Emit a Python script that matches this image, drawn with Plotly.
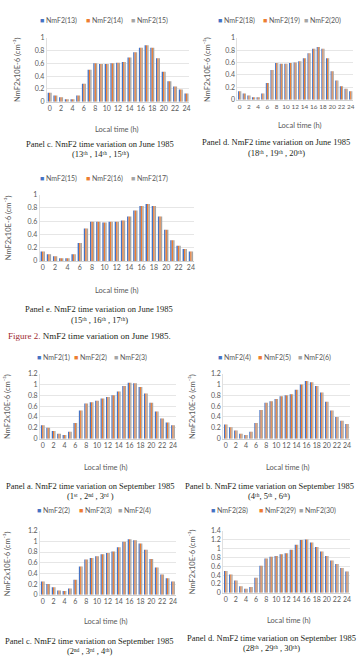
import plotly.graph_objects as go

W, H = 360, 665
hours = list(range(25))
tick_hours = list(range(0, 25, 2))

# ---- June 1985 ----
jun_c_13 = [0.14, 0.10, 0.07, 0.04, 0.04, 0.10, 0.28, 0.50, 0.60, 0.59, 0.59, 0.60, 0.61, 0.62, 0.69, 0.77, 0.84, 0.88, 0.84, 0.68, 0.47, 0.32, 0.24, 0.19, 0.13]
jun_c_14 = [0.14, 0.10, 0.07, 0.04, 0.04, 0.10, 0.28, 0.50, 0.60, 0.59, 0.59, 0.60, 0.61, 0.62, 0.69, 0.77, 0.84, 0.88, 0.84, 0.68, 0.47, 0.32, 0.24, 0.19, 0.13]
jun_c_15 = [0.14, 0.10, 0.07, 0.04, 0.04, 0.10, 0.28, 0.50, 0.60, 0.59, 0.59, 0.60, 0.61, 0.62, 0.69, 0.77, 0.84, 0.88, 0.84, 0.68, 0.47, 0.32, 0.24, 0.19, 0.13]

jun_d_18 = [0.14, 0.10, 0.07, 0.04, 0.04, 0.10, 0.27, 0.48, 0.59, 0.58, 0.58, 0.59, 0.60, 0.62, 0.67, 0.75, 0.82, 0.85, 0.82, 0.67, 0.46, 0.31, 0.22, 0.18, 0.14]
jun_d_19 = [0.14, 0.10, 0.07, 0.04, 0.04, 0.10, 0.27, 0.48, 0.59, 0.58, 0.58, 0.59, 0.60, 0.62, 0.67, 0.75, 0.82, 0.85, 0.82, 0.67, 0.46, 0.31, 0.22, 0.18, 0.14]
jun_d_20 = [0.14, 0.10, 0.07, 0.04, 0.04, 0.10, 0.27, 0.48, 0.59, 0.58, 0.58, 0.59, 0.60, 0.62, 0.67, 0.75, 0.82, 0.85, 0.82, 0.67, 0.46, 0.31, 0.22, 0.18, 0.14]

jun_e_15 = [0.14, 0.10, 0.07, 0.04, 0.04, 0.10, 0.27, 0.49, 0.59, 0.59, 0.58, 0.59, 0.59, 0.61, 0.67, 0.76, 0.83, 0.86, 0.83, 0.67, 0.47, 0.31, 0.23, 0.18, 0.14]
jun_e_16 = [0.14, 0.10, 0.07, 0.04, 0.04, 0.10, 0.27, 0.49, 0.59, 0.59, 0.58, 0.59, 0.59, 0.61, 0.67, 0.76, 0.83, 0.86, 0.83, 0.67, 0.47, 0.31, 0.23, 0.18, 0.14]
jun_e_17 = [0.14, 0.10, 0.07, 0.04, 0.04, 0.10, 0.27, 0.49, 0.59, 0.59, 0.58, 0.59, 0.59, 0.61, 0.67, 0.76, 0.83, 0.86, 0.83, 0.67, 0.47, 0.31, 0.23, 0.18, 0.14]

# ---- September 1985 ----
sep_a_1 = [0.25, 0.20, 0.14, 0.09, 0.07, 0.13, 0.29, 0.52, 0.65, 0.67, 0.70, 0.74, 0.77, 0.80, 0.87, 0.97, 1.03, 1.02, 0.95, 0.83, 0.66, 0.50, 0.37, 0.30, 0.25]
sep_a_2 = [0.25, 0.20, 0.14, 0.09, 0.07, 0.13, 0.29, 0.52, 0.65, 0.67, 0.70, 0.74, 0.77, 0.80, 0.87, 0.97, 1.03, 1.02, 0.95, 0.83, 0.66, 0.50, 0.37, 0.30, 0.25]
sep_a_3 = [0.25, 0.20, 0.14, 0.09, 0.07, 0.13, 0.29, 0.52, 0.65, 0.67, 0.70, 0.74, 0.77, 0.80, 0.87, 0.97, 1.03, 1.02, 0.95, 0.83, 0.66, 0.50, 0.37, 0.30, 0.25]

sep_b_4 = [0.26, 0.21, 0.15, 0.09, 0.07, 0.13, 0.29, 0.53, 0.66, 0.69, 0.73, 0.78, 0.80, 0.82, 0.90, 1.00, 1.06, 1.04, 0.97, 0.85, 0.68, 0.52, 0.40, 0.33, 0.27]
sep_b_5 = [0.26, 0.21, 0.15, 0.09, 0.07, 0.13, 0.29, 0.53, 0.66, 0.69, 0.73, 0.78, 0.80, 0.82, 0.90, 1.00, 1.06, 1.04, 0.97, 0.85, 0.68, 0.52, 0.40, 0.33, 0.27]
sep_b_6 = [0.26, 0.21, 0.15, 0.09, 0.07, 0.13, 0.29, 0.53, 0.66, 0.69, 0.73, 0.78, 0.80, 0.82, 0.90, 1.00, 1.06, 1.04, 0.97, 0.85, 0.68, 0.52, 0.40, 0.33, 0.27]

sep_c_2 = [0.25, 0.20, 0.14, 0.08, 0.07, 0.12, 0.28, 0.53, 0.66, 0.69, 0.72, 0.76, 0.78, 0.81, 0.89, 0.99, 1.04, 1.02, 0.96, 0.84, 0.67, 0.51, 0.38, 0.31, 0.25]
sep_c_3 = [0.25, 0.20, 0.14, 0.08, 0.07, 0.12, 0.28, 0.53, 0.66, 0.69, 0.72, 0.76, 0.78, 0.81, 0.89, 0.99, 1.04, 1.02, 0.96, 0.84, 0.67, 0.51, 0.38, 0.31, 0.25]
sep_c_4 = [0.25, 0.20, 0.14, 0.08, 0.07, 0.12, 0.28, 0.53, 0.66, 0.69, 0.72, 0.76, 0.78, 0.81, 0.89, 0.99, 1.04, 1.02, 0.96, 0.84, 0.67, 0.51, 0.38, 0.31, 0.25]

sep_d_28 = [0.49, 0.41, 0.28, 0.15, 0.09, 0.13, 0.34, 0.61, 0.77, 0.81, 0.83, 0.87, 0.89, 0.97, 1.08, 1.19, 1.20, 1.13, 1.03, 0.93, 0.83, 0.73, 0.65, 0.56, 0.48]
sep_d_29 = [0.49, 0.41, 0.28, 0.15, 0.09, 0.13, 0.34, 0.61, 0.77, 0.81, 0.83, 0.87, 0.89, 0.97, 1.08, 1.19, 1.20, 1.13, 1.03, 0.93, 0.83, 0.73, 0.65, 0.56, 0.48]
sep_d_30 = [0.49, 0.41, 0.28, 0.15, 0.09, 0.13, 0.34, 0.61, 0.77, 0.81, 0.83, 0.87, 0.89, 0.97, 1.08, 1.19, 1.20, 1.13, 1.03, 0.93, 0.83, 0.73, 0.65, 0.56, 0.48]

# ---- text ----
panel_captions = [
    ("Panel c. NmF2 time variation on June 1985", "(13ᵗʰ , 14ᵗʰ , 15ᵗʰ)"),
    ("Panel d. NmF2 time variation on June 1985", "(18ᵗʰ , 19ᵗʰ , 20ᵗʰ)"),
    ("Panel e. NmF2 time variation on June 1985", "(15ᵗʰ , 16ᵗʰ , 17ᵗʰ)"),
    ("Panel a. NmF2 time variation on September 1985", "(1ˢᵗ , 2ⁿᵈ , 3ʳᵈ )"),
    ("Panel b. NmF2 time variation on September 1985", "(4ᵗʰ, 5ᵗʰ , 6ᵗʰ)"),
    ("Panel c. NmF2 time variation on September 1985", "(2ⁿᵈ , 3ʳᵈ , 4ᵗʰ)"),
    ("Panel d. NmF2 time variation on September 1985", "(28ᵗʰ , 29ᵗʰ , 30ᵗʰ)"),
]
figure_caption = "<span style='color:#9e2a2f'>Figure 2.</span> NmF2 time variation on June 1985."
x_title = "Local time (h)"
y_title = "NmF2x10E-6 (cm⁻³)"

colors = ["#4472C4", "#ED7D31", "#A5A5A5"]

panels = [
    dict(series=[("NmF2(13)", jun_c_13), ("NmF2(14)", jun_c_14), ("NmF2(15)", jun_c_15)], ymax=1.0, tfs=7,
         x0=47.1, x1=190.4, yt=33, yb=98, leg=[38, 84, 130], legy=16, xt=(118, 126), yti=(17, 65), cap=(101, 141, 151)),
    dict(series=[("NmF2(18)", jun_d_18), ("NmF2(19)", jun_d_19), ("NmF2(20)", jun_d_20)], ymax=1.0, tfs=6.4,
         x0=238.7, x1=355.0, yt=33, yb=96, leg=[217, 262, 304], legy=16, xt=(302, 122), yti=(208, 65), cap=(278, 139, 150)),
    dict(series=[("NmF2(15)", jun_e_15), ("NmF2(16)", jun_e_16), ("NmF2(17)", jun_e_17)], ymax=1.0, tfs=7,
         x0=39.9, x1=195.1, yt=192, yb=259, leg=[38, 84, 130], legy=176, xt=(118, 289), yti=(8, 225), cap=(100, 308, 319)),
    dict(series=[("NmF2(1)", sep_a_1), ("NmF2(2)", sep_a_2), ("NmF2(3)", sep_a_3)], ymax=1.2, tfs=7,
         x0=40.3, x1=176.7, yt=373, yb=439, leg=[35, 72, 113], legy=357, xt=(107, 468), yti=(7, 406), cap=(91, 487, 497)),
    dict(series=[("NmF2(4)", sep_b_4), ("NmF2(5)", sep_b_5), ("NmF2(6)", sep_b_6)], ymax=1.2, tfs=7,
         x0=224.5, x1=351.5, yt=373, yb=439, leg=[217, 257, 298], legy=357, xt=(290, 468), yti=(193, 406), cap=(271, 487, 497)),
    dict(series=[("NmF2(2)", sep_c_2), ("NmF2(3)", sep_c_3), ("NmF2(4)", sep_c_4)], ymax=1.2, tfs=7,
         x0=40.3, x1=176.7, yt=532, yb=597, leg=[35, 77, 117], legy=512, xt=(107, 624), yti=(7, 565), cap=(90, 644, 654)),
    dict(series=[("NmF2(28)", sep_d_28), ("NmF2(29)", sep_d_29), ("NmF2(30)", sep_d_30)], ymax=1.4, tfs=7,
         x0=224.5, x1=351.5, yt=532, yb=595, leg=[210, 258, 299], legy=512, xt=(291, 623), yti=(193, 563), cap=(273, 641, 651)),
]

def fx(p):
    return p / W

def fy(p):
    return 1 - p / H

SANS = "Lato, Carlito, Liberation Sans, sans-serif"
SERIF = "Liberation Serif, DejaVu Serif, serif"
TICK = "#595959"

fig = go.Figure()
annotations = []
layout_axes = {}

for i, p in enumerate(panels, start=1):
    xa = "x" if i == 1 else f"x{i}"
    ya = "y" if i == 1 else f"y{i}"
    for (name, vals), c in zip(p["series"], colors):
        fig.add_trace(go.Bar(x=hours, y=vals, name=name, marker=dict(color=c, line=dict(width=0)),
                             xaxis=xa, yaxis=ya, showlegend=False))
    layout_axes["xaxis" if i == 1 else f"xaxis{i}"] = dict(
        domain=[fx(p["x0"]), fx(p["x1"])], anchor=ya, range=[-0.5, 24.5],
        tickmode="array", tickvals=tick_hours, ticktext=[str(h) for h in tick_hours],
        tickangle=0, ticklabeloverflow="allow", showgrid=False, zeroline=False,
        showline=True, linecolor="#D0D0D0", linewidth=1,
        ticks="", tickfont=dict(family=SANS, size=p["tfs"], color=TICK), fixedrange=True)
    layout_axes["yaxis" if i == 1 else f"yaxis{i}"] = dict(
        domain=[fy(p["yb"]), fy(p["yt"])], anchor=xa, range=[0, p["ymax"]], dtick=0.2, tick0=0,
        showgrid=True, gridcolor="#E0E0E0", gridwidth=0.8, zeroline=False,
        showline=True, linecolor="#E0E0E0", linewidth=1,
        ticks="", tickfont=dict(family=SANS, size=7, color=TICK), fixedrange=True)
    # legend entries
    for lx, (name, _), c in zip(p["leg"], p["series"], colors):
        annotations.append(dict(xref="paper", yref="paper", x=fx(lx), y=fy(p["legy"]),
                                xanchor="left", yanchor="middle", showarrow=False,
                                text=f"<span style='color:{c}'>■</span> {name}",
                                font=dict(family=SANS, size=7, color=TICK)))
    # axis titles
    annotations.append(dict(xref="paper", yref="paper", x=fx(p["xt"][0]), y=fy(p["xt"][1]),
                            xanchor="center", yanchor="middle", showarrow=False, text=x_title,
                            font=dict(family=SANS, size=7.5, color=TICK)))
    annotations.append(dict(xref="paper", yref="paper", x=fx(p["yti"][0]), y=fy(p["yti"][1]),
                            xanchor="center", yanchor="middle", showarrow=False, text=y_title,
                            textangle=-90, font=dict(family=SANS, size=7.5, color=TICK)))
    # captions
    l1, l2 = panel_captions[i - 1]
    cx, cy1, cy2 = p["cap"]
    annotations.append(dict(xref="paper", yref="paper", x=fx(cx), y=fy(cy1), xanchor="center",
                            yanchor="middle", showarrow=False, text=l1,
                            font=dict(family=SERIF, size=8.5, color="#231F20")))
    annotations.append(dict(xref="paper", yref="paper", x=fx(cx), y=fy(cy2), xanchor="center",
                            yanchor="middle", showarrow=False, text=l2,
                            font=dict(family=SERIF, size=8.5, color="#231F20")))

annotations.append(dict(xref="paper", yref="paper", x=fx(6), y=fy(335), xanchor="left",
                        yanchor="middle", showarrow=False, text=figure_caption,
                        font=dict(family=SERIF, size=9, color="#231F20")))

fig.update_layout(
    width=W, height=H, autosize=False,
    margin=dict(l=0, r=0, t=0, b=0, pad=0),
    paper_bgcolor="white", plot_bgcolor="white",
    barmode="group", bargap=0.3, bargroupgap=0,
    annotations=annotations,
    showlegend=False,
    **layout_axes,
)

fig.write_html("out.html", config=dict(displayModeBar=False, staticPlot=True))
